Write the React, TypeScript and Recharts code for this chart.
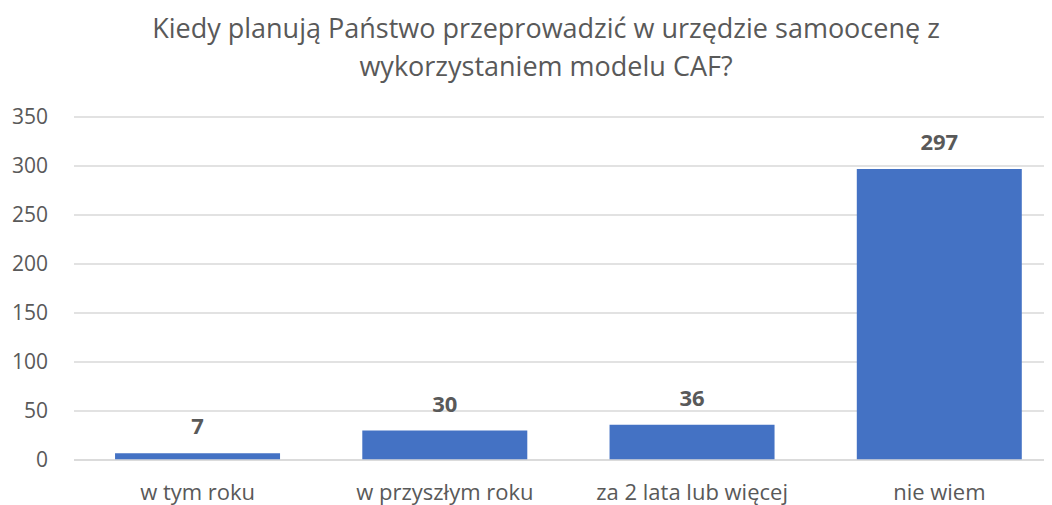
import React from "react"
import { BarChart, Bar, XAxis, YAxis, CartesianGrid, LabelList } from "recharts"

const categories = ["w tym roku", "w przyszłym roku", "za 2 lata lub więcej", "nie wiem"]
const counts = [7, 30, 36, 297]
const yTicks = [0, 50, 100, 150, 200, 250, 300, 350]

const data = categories.map((name, i) => ({ name, value: counts[i] }))

const font = "'Open Sans', sans-serif"
const grey = "#595959"

export default function App() {
  return (
    <div style={{ position: "relative", width: 1044, height: 497, overflow: "hidden", fontFamily: font }}>
      <div
        style={{
          position: "absolute",
          left: 0,
          top: 0,
          width: 1076,
          textAlign: "center",
          color: grey,
          fontSize: 27,
          lineHeight: "38px",
          paddingTop: 1,
        }}
      >
        Kiedy planują Państwo przeprowadzić w urzędzie samoocenę z
        <br />
        wykorzystaniem modelu CAF?
      </div>
      <BarChart
        width={1055}
        height={497}
        data={data}
        margin={{ top: 109, right: 0, bottom: 0, left: 0 }}
        barCategoryGap="16.6%"
      >
        <CartesianGrid vertical={false} stroke="#D9D9D9" strokeWidth={1.3} />
        <XAxis
          dataKey="name"
          axisLine={{ stroke: "#D9D9D9", strokeWidth: 1.3 }}
          tickLine={false}
          height={45}
          tickMargin={18}
          tick={{ fill: grey, fontSize: 22, fontFamily: font }}
          interval={0}
        />
        <YAxis
          domain={[0, 350]}
          ticks={yTicks}
          axisLine={false}
          tickLine={false}
          width={66}
          tickMargin={20}
          tick={{ fill: grey, fontSize: 21, fontFamily: font }}
        />
        <Bar dataKey="value" fill="#4472C4" isAnimationActive={false}>
          <LabelList
            dataKey="value"
            position="top"
            offset={19}
            fill={grey}
            fontSize={22}
            fontWeight="bold"
            fontFamily={font}
          />
        </Bar>
      </BarChart>
    </div>
  )
}
